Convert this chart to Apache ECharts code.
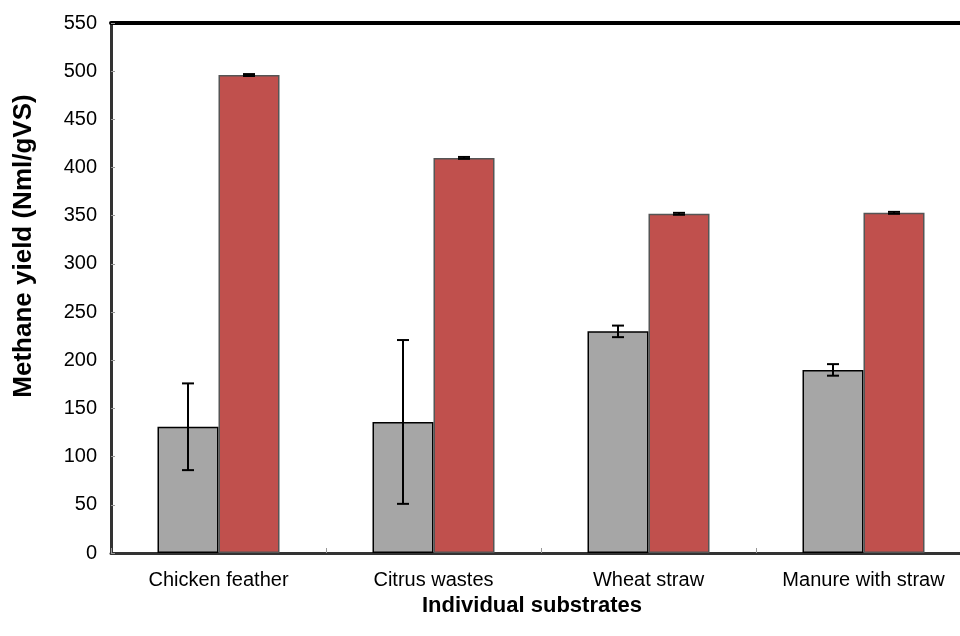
<!DOCTYPE html>
<html>
<head>
<meta charset="utf-8">
<script src="https://cdn.jsdelivr.net/npm/echarts@6/dist/echarts.min.js"></script>
<style>
  html, body { margin: 0; padding: 0; background: #fff; overflow: hidden; }
  /* the plot runs a little past the right edge of the page */
  #chart { width: 980px; height: 636px; }
</style>
</head>
<body>
<div id="chart"></div>
<script>
// Substrates and methane yields (Nml/gVS)
const categories = ['Chicken feather', 'Citrus wastes', 'Wheat straw', 'Manure with straw'];
const seriesA = [131, 136, 230, 190];   // grey bars
const errorA = [45, 85, 6, 6];
const seriesB = [496, 410, 352, 353];   // red bars
const errorB = [1, 1, 1, 1];
const yTicks = { min: 0, max: 550, step: 50 };

const BAR_W = 61;
const FONT = '"Liberation Sans", Arial, sans-serif';

const chart = echarts.init(document.getElementById('chart'), null, { renderer: 'canvas' });

function errorSeries(values, errors, offset) {
  return {
    type: 'custom',
    z: 10,
    silent: true,
    data: values.map((v, i) => [i, v - errors[i], v + errors[i]]),
    renderItem: function (params, api) {
      const lo = api.coord([api.value(0), api.value(1)]);
      const hi = api.coord([api.value(0), api.value(2)]);
      const x = lo[0] + offset;
      const cap = 6;
      const style = { stroke: '#000', lineWidth: 2 };
      return {
        type: 'group',
        children: [
          { type: 'line', shape: { x1: x, y1: hi[1], x2: x, y2: lo[1] }, style },
          { type: 'line', shape: { x1: x - cap, y1: hi[1], x2: x + cap, y2: hi[1] }, style },
          { type: 'line', shape: { x1: x - cap, y1: lo[1], x2: x + cap, y2: lo[1] }, style }
        ]
      };
    }
  };
}

const option = {
  animation: false,
  backgroundColor: '#fff',
  grid: { left: 111, top: 23, width: 860, height: 530, containLabel: false },
  xAxis: [
    {
      type: 'category',
      data: categories,
      position: 'bottom',
      axisLine: { lineStyle: { color: '#333', width: 3 } },
      axisTick: { show: true, inside: true, length: 5, lineStyle: { color: '#999', width: 1 } },
      axisLabel: { color: '#000', fontSize: 20, fontFamily: FONT, margin: 17 },
      splitLine: { show: false }
    },
    {
      type: 'category',
      data: categories,
      position: 'top',
      axisLine: { lineStyle: { color: '#000', width: 4 } },
      axisTick: { show: false },
      axisLabel: { show: false },
      splitLine: { show: false }
    }
  ],
  yAxis: {
    type: 'value',
    min: yTicks.min,
    max: yTicks.max,
    interval: yTicks.step,
    axisLine: { show: true, lineStyle: { color: '#333', width: 3 } },
    axisTick: { show: true, inside: true, length: 4, lineStyle: { color: '#999', width: 1 } },
    axisLabel: { color: '#000', fontSize: 20, fontFamily: FONT, margin: 14 },
    splitLine: { show: false }
  },
  graphic: [
    {
      type: 'text',
      x: 24, y: 246,
      rotation: Math.PI / 2,
      style: {
        text: 'Methane yield (Nml/gVS)',
        fill: '#000',
        font: 'bold 26px ' + FONT,
        align: 'center',
        verticalAlign: 'middle'
      }
    },
    {
      type: 'text',
      x: 532, y: 606,
      style: {
        text: 'Individual substrates',
        fill: '#000',
        font: 'bold 22px ' + FONT,
        align: 'center',
        verticalAlign: 'middle'
      }
    }
  ],
  series: [
    {
      type: 'bar',
      data: seriesA,
      barWidth: BAR_W,
      barGap: '0%',
      itemStyle: { color: '#A6A6A6', borderColor: '#000', borderWidth: 1.5 }
    },
    {
      type: 'bar',
      data: seriesB,
      barWidth: BAR_W,
      barGap: '0%',
      itemStyle: { color: '#C0504D', borderColor: '#555', borderWidth: 1.5 }
    },
    errorSeries(seriesA, errorA, -BAR_W / 2),
    errorSeries(seriesB, errorB, BAR_W / 2)
  ]
};

chart.setOption(option);
</script>
</body>
</html>
